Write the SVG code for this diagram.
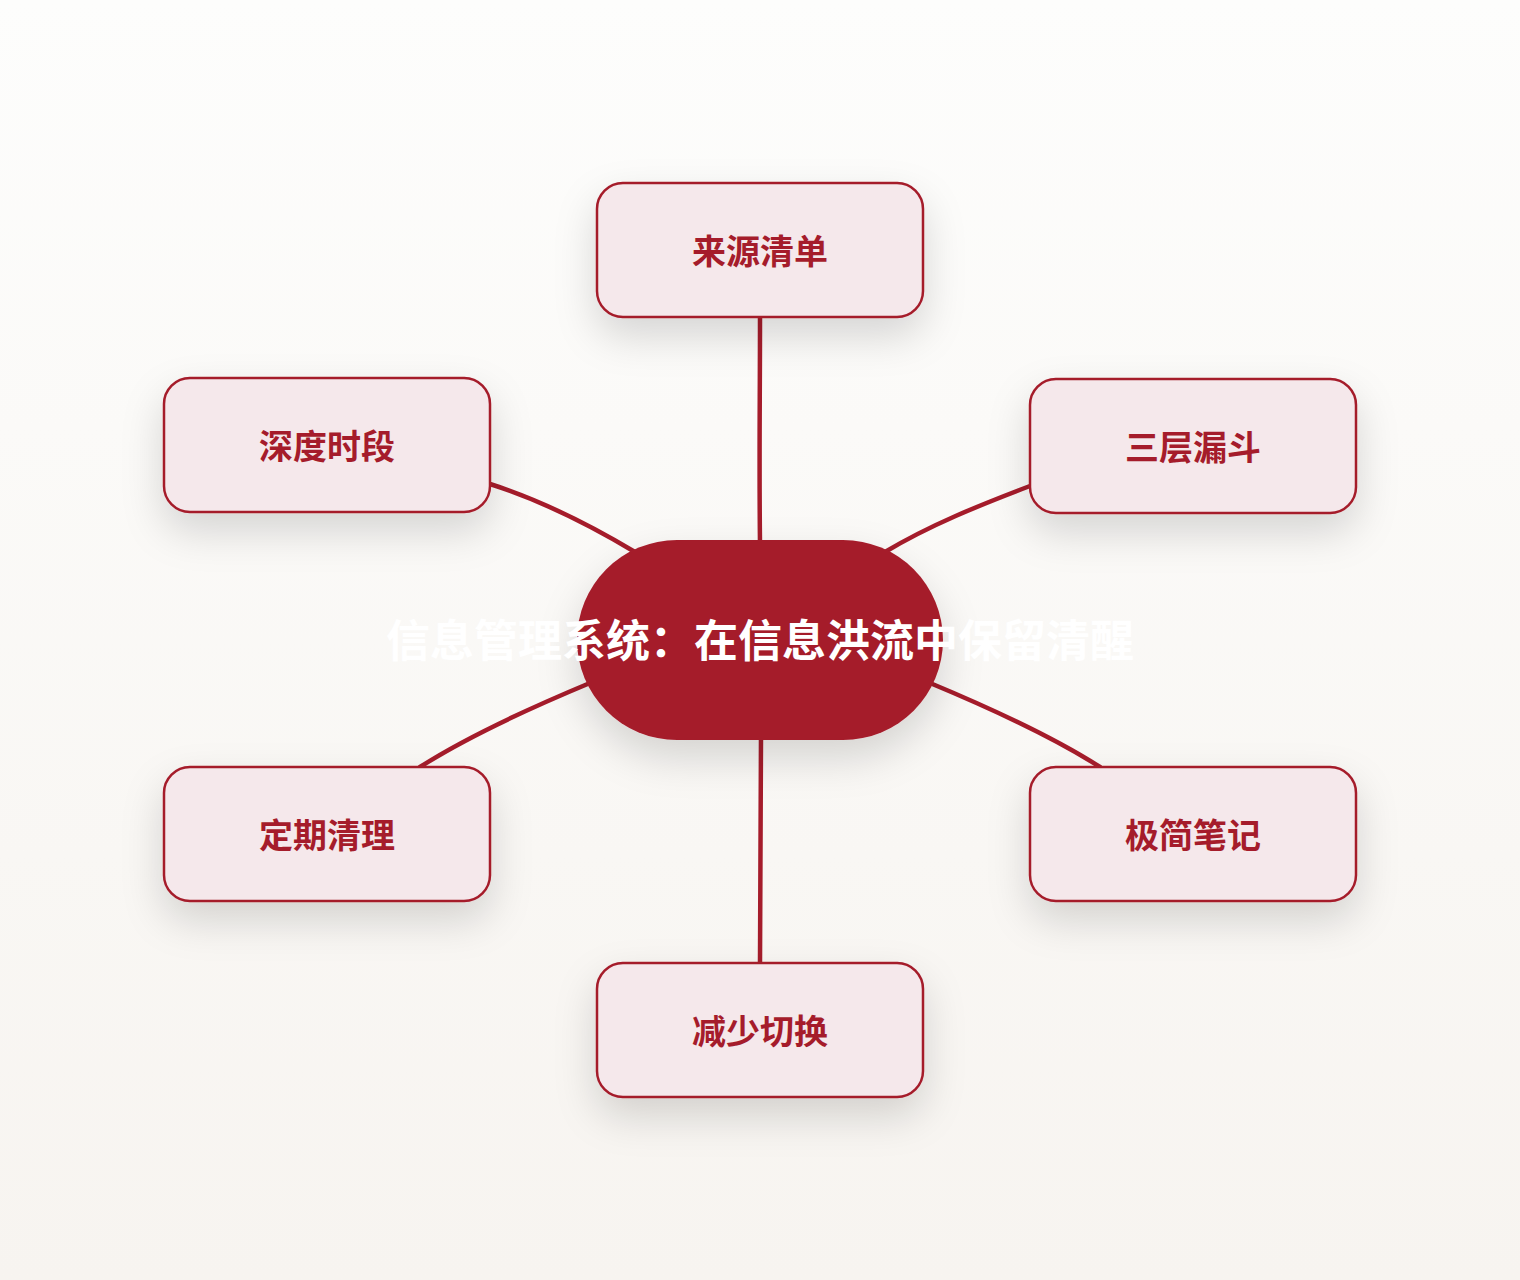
<svg xmlns="http://www.w3.org/2000/svg" width="1520" height="1280" viewBox="0 0 1520 1280">
<defs>
<linearGradient id="bg" x1="0" y1="0" x2="0" y2="1">
<stop offset="0" stop-color="#fdfdfc"/>
<stop offset="1" stop-color="#f7f4f0"/>
</linearGradient>
<filter id="sh" x="-40%" y="-40%" width="180%" height="200%">
<feDropShadow dx="0" dy="18" stdDeviation="20" flood-color="#000" flood-opacity="0.15"/>
</filter>
<style>
.node rect{fill:#f5e8eb;stroke:#a51c2b;stroke-width:2.5;filter:url(#sh)}
.node text{font-family:"Noto Sans CJK SC","Noto Sans",sans-serif;font-weight:700;font-size:34px;fill:#a51c2b;text-anchor:middle}
.edge{fill:none;stroke:#a51c2b;stroke-width:4.5;stroke-linecap:round}
.center rect{fill:#a51c2b;filter:url(#sh)}
.center text{font-family:"Noto Sans CJK SC","Noto Sans",sans-serif;font-weight:700;font-size:44px;fill:#ffffff;text-anchor:middle}
</style>
</defs>
<rect width="1520" height="1280" fill="url(#bg)"/>
<g id="connectors">
<path class="edge" d="M760 317 C760 400 759 460 760 545"/>
<path class="edge" d="M490 484 C540 500 590 525 635 552"/>
<path class="edge" d="M1030 486 C980 505 930 525 885 552"/>
<path class="edge" d="M590 683 C530 708 470 735 420 767"/>
<path class="edge" d="M930 683 C990 708 1050 735 1100 767"/>
<path class="edge" d="M761 735 C761 820 760 900 760 963"/>
</g>
<g id="n-top" class="node">
<rect x="597" y="183" width="326" height="134" rx="26"/>
<text x="760" y="264">来源清单</text>
</g>
<g id="n-lt" class="node">
<rect x="164" y="378" width="326" height="134" rx="26"/>
<text x="327" y="459">深度时段</text>
</g>
<g id="n-rt" class="node">
<rect x="1030" y="379" width="326" height="134" rx="26"/>
<text x="1193" y="460">三层漏斗</text>
</g>
<g id="n-lb" class="node">
<rect x="164" y="767" width="326" height="134" rx="26"/>
<text x="327" y="848">定期清理</text>
</g>
<g id="n-rb" class="node">
<rect x="1030" y="767" width="326" height="134" rx="26"/>
<text x="1193" y="848">极简笔记</text>
</g>
<g id="n-bottom" class="node">
<rect x="597" y="963" width="326" height="134" rx="26"/>
<text x="760" y="1044">减少切换</text>
</g>
<g id="n-center" class="center">
<rect x="577" y="540" width="366" height="200" rx="100"/>
<text x="760" y="657">信息管理系统：在信息洪流中保留清醒</text>
</g>
</svg>
